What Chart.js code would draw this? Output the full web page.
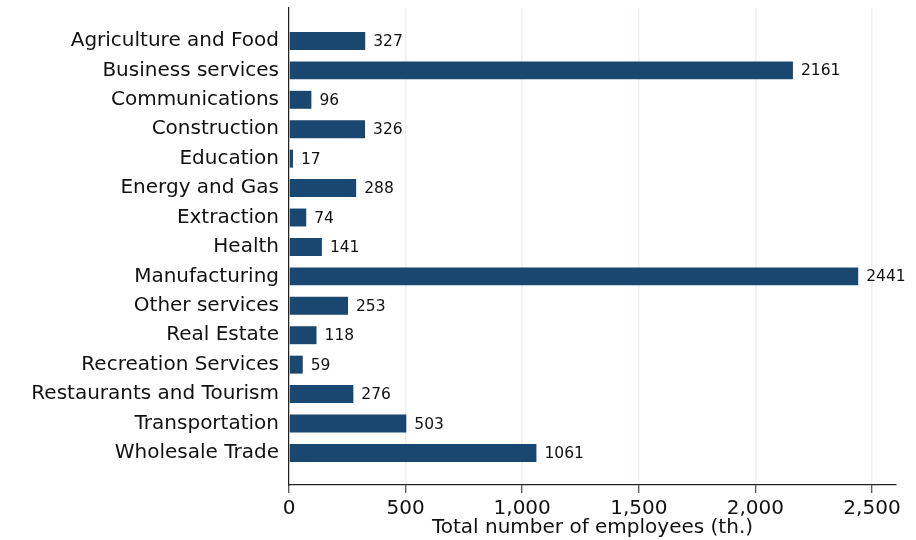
<!DOCTYPE html>
<html>
<head>
<meta charset="utf-8">
<script src="https://cdn.jsdelivr.net/npm/chart.js@4.4.1/dist/chart.umd.min.js"></script>
<style>
  html, body { margin: 0; padding: 0; background: #fff; }
  #wrap { width: 916px; height: 540px; }
</style>
</head>
<body>
<div id="wrap"><canvas id="myChart"></canvas></div>
<script>
// data
const sectors = ['Agriculture and Food', 'Business services', 'Communications', 'Construction',
  'Education', 'Energy and Gas', 'Extraction', 'Health', 'Manufacturing', 'Other services',
  'Real Estate', 'Recreation Services', 'Restaurants and Tourism', 'Transportation', 'Wholesale Trade'];
const employees = [327, 2161, 96, 326, 17, 288, 74, 141, 2441, 253, 118, 59, 276, 503, 1061];
const xTicks = [0, 500, 1000, 1500, 2000, 2500];

const font = 'DejaVu Sans';
const navy = '#1a476f';

// labels at the end of each bar
const valueLabels = {
  id: 'valueLabels',
  afterDatasetsDraw(chart) {
    const ctx = chart.ctx;
    const meta = chart.getDatasetMeta(0);
    ctx.save();
    ctx.font = '15.5px "' + font + '"';
    ctx.fillStyle = '#111';
    ctx.textAlign = 'left';
    ctx.textBaseline = 'middle';
    meta.data.forEach((bar, i) => {
      ctx.fillText(String(employees[i]), bar.x + 8, bar.y + 1);
    });
    ctx.restore();
  }
};

let canva = document.getElementById('myChart').getContext('2d');

let config = {
  type: 'bar',
  data: {
    datasets: [{
      label: 'Total number of employees (th.)',
      data: employees.map((v, i) => ({ x: v, y: i })),
      backgroundColor: navy,
      borderWidth: 0,
      barPercentage: 0.61,
      categoryPercentage: 1
    }]
  },
  options: {
    indexAxis: 'y',
    responsive: true,
    maintainAspectRatio: false,
    animation: false,
    layout: { padding: { top: 8, right: 20, left: 0, bottom: 0 } },
    plugins: { legend: { display: false }, tooltip: { enabled: false } },
    scales: {
      x: {
        type: 'linear',
        bounds: 'data',
        min: 0,
        max: 2603,
        afterBuildTicks: s => { s.ticks = xTicks.map(v => ({ value: v })); },
        afterFit: s => { s.height = 55; s.paddingLeft = 0; s.paddingRight = 0; },
        grid: { color: '#eaf2f3', lineWidth: 1.5, tickColor: '#222', tickLength: 8, tickWidth: 1 },
        border: { display: true, color: '#222', width: 1.2 },
        ticks: {
          color: '#111',
          padding: 4,
          maxRotation: 0,
          font: { family: font, size: 20 },
          callback: v => v.toLocaleString('en-US')
        },
        title: {
          display: true,
          text: 'Total number of employees (th.)',
          color: '#111',
          font: { family: font, size: 20 },
          padding: { top: 0, bottom: 0 }
        }
      },
      y: {
        type: 'linear',
        bounds: 'data',
        offset: false,
        reverse: true,
        min: -1.12,
        max: 15.09,
        afterBuildTicks: s => { s.ticks = sectors.map((c, i) => ({ value: i })); },
        afterFit: s => { s.width = 289; s.paddingTop = 0; s.paddingBottom = 0; },
        grid: { display: false, drawTicks: false, offset: false },
        border: { display: true, color: '#222', width: 1.2 },
        ticks: {
          color: '#111',
          padding: 10,
          font: { family: font, size: 20 },
          callback: v => sectors[v]
        }
      }
    }
  },
  plugins: [valueLabels]
};

window.grafica = new Chart(canva, config);
</script>
</body>
</html>
